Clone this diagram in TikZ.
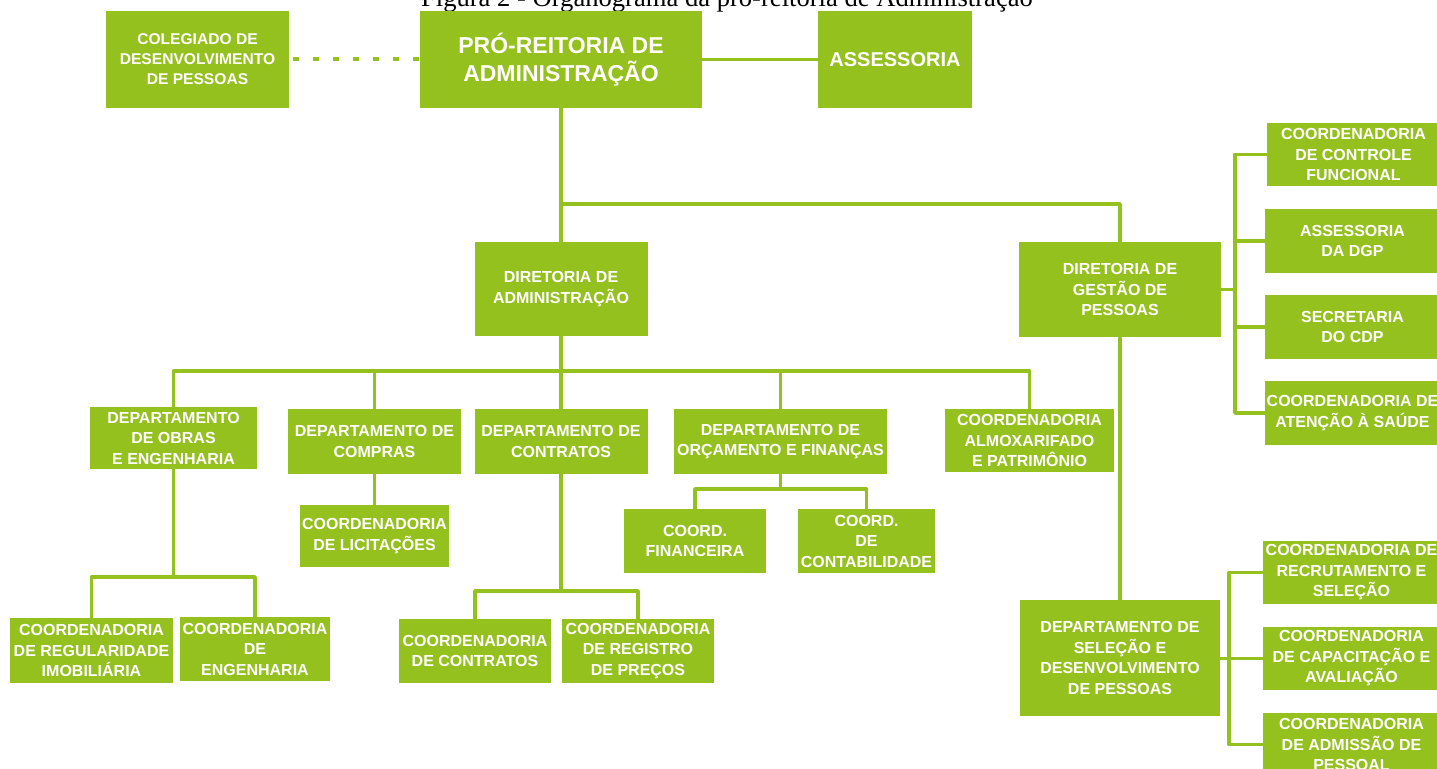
\documentclass[tikz,border=0pt]{standalone}
\usepackage{fontspec}
\setmainfont{Liberation Sans}
\newfontfamily\serifa{Liberation Serif}
\usepackage{tikz}
\usetikzlibrary{positioning}
\usepackage{xcolor}
\definecolor{verde}{RGB}{149,193,31}

\begin{document}
\begin{tikzpicture}[x=0.5pt,y=-0.5pt,
  caixa/.style 2 args={fill=verde, text=white, inner sep=0pt, align=center,
    minimum width=#1*0.5pt, minimum height=#2*0.5pt,
    font=\bfseries\fontsize{8}{10.25}\selectfont},
  ramo/.style={verde, line width=1.75pt, line join=round},
  pontilhado/.style={verde, line width=2pt, dash pattern=on 3pt off 7pt, dash phase=-2pt}]
\useasboundingbox (0,0) rectangle (1437,769);

\node[anchor=base west, font=\serifa\fontsize{13.3}{15}\selectfont] (titulo) at (414,7) {Figura 2 - Organograma da pró-reitoria de Administração};

% topo
\node[caixa={183}{97}, font=\bfseries\fontsize{7.8}{10}\selectfont] (colegiado) at (197.5,59.5) {COLEGIADO DE\\DESENVOLVIMENTO\\DE PESSOAS};
\node[caixa={282}{97}, font=\bfseries\fontsize{11.5}{14}\selectfont] (pro) at (561,59.5) {PRÓ-REITORIA DE\\ADMINISTRAÇÃO};
\node[caixa={154}{97}, font=\bfseries\fontsize{10}{12}\selectfont] (assessoria) at (895,59.5) {ASSESSORIA};

\draw[pontilhado] (colegiado.east) -- (pro.west);
\draw[ramo] (pro.east) -- (assessoria.west);

% diretorias
\node[caixa={173}{94}] (da) at (561,289) {DIRETORIA DE\\ADMINISTRAÇÃO};
\node[caixa={202}{95}] (dgp) at (1120,289.5) {DIRETORIA DE\\GESTÃO DE\\PESSOAS};

\coordinate (jpro) at (561,204);
\draw[ramo] (pro.south) -- (da.north);
\draw[ramo] (jpro) -| (dgp.north);

% departamentos
\node[caixa={167}{62}] (obras) at (173.5,438) {DEPARTAMENTO\\DE OBRAS\\E ENGENHARIA};
\node[caixa={173}{65}] (compras) at (374.5,441.5) {DEPARTAMENTO DE\\COMPRAS};
\node[caixa={173}{65}] (contratos) at (561,441.5) {DEPARTAMENTO DE\\CONTRATOS};
\node[caixa={213}{65}] (orcamento) at (780.5,441.5) {DEPARTAMENTO DE\\ORÇAMENTO E FINANÇAS};
\node[caixa={169}{63}] (almox) at (1029.5,440.5) {COORDENADORIA\\ALMOXARIFADO\\E PATRIMÔNIO};

\coordinate (jda) at (561,371);
\draw[ramo] (da.south) -- (contratos.north);
\draw[ramo] (obras.north) |- (jda) -| (almox.north);
\draw[ramo] (jda -| compras.north) -- (compras.north);
\draw[ramo] (jda -| orcamento.north) -- (orcamento.north);

% coordenadorias
\node[caixa={149}{62}] (licitacoes) at (374.5,536) {COORDENADORIA\\DE LICITAÇÕES};
\node[caixa={142}{64}] (financeira) at (695,541) {COORD.\\FINANCEIRA};
\node[caixa={137}{64}] (contabilidade) at (866.5,541) {COORD.\\DE\\CONTABILIDADE};
\node[caixa={163}{65}] (regularidade) at (91.5,650.5) {COORDENADORIA\\DE REGULARIDADE\\IMOBILIÁRIA};
\node[caixa={150}{64}] (engenharia) at (255,649) {COORDENADORIA\\DE\\ENGENHARIA};
\node[caixa={152}{64}] (ccontratos) at (475,651) {COORDENADORIA\\DE CONTRATOS};
\node[caixa={152}{64}] (registro) at (638,651) {COORDENADORIA\\DE REGISTRO\\DE PREÇOS};

\draw[ramo] (compras.south) -- (licitacoes.north);

\coordinate (jorc) at (780.5,489);
\draw[ramo] (orcamento.south) -- (jorc);
\draw[ramo] (financeira.north) |- (jorc) -| (contabilidade.north);

\coordinate (jobras) at (173.5,577);
\draw[ramo] (obras.south) -- (jobras);
\draw[ramo] (regularidade.north) |- (jobras) -| (engenharia.north);

\coordinate (jcontratos) at (561,591);
\draw[ramo] (contratos.south) -- (jcontratos);
\draw[ramo] (ccontratos.north) |- (jcontratos) -| (registro.north);

% gestao de pessoas
\node[caixa={173}{63}] (controle) at (1353.5,154.5) {COORDENADORIA\\DE CONTROLE\\FUNCIONAL};
\node[caixa={175}{64}] (adgp) at (1352.5,241) {ASSESSORIA\\DA DGP};
\node[caixa={175}{64}] (cdp) at (1352.5,327) {SECRETARIA\\DO CDP};
\node[caixa={175}{64}] (saude) at (1352.5,413) {COORDENADORIA DE\\ATENÇÃO À SAÚDE};

\coordinate (jdgp) at (1235,289.5);
\draw[ramo] (dgp.east) -- (jdgp);
\draw[ramo] (controle.west) -| (jdgp) |- (saude.west);
\draw[ramo] (jdgp |- adgp.west) -- (adgp.west);
\draw[ramo] (jdgp |- cdp.west) -- (cdp.west);

\node[caixa={200}{116}] (dsdp) at (1120,658) {DEPARTAMENTO DE\\SELEÇÃO E\\DESENVOLVIMENTO\\DE PESSOAS};
\node[caixa={177}{63}] (recrutamento) at (1351.5,572.5) {COORDENADORIA DE\\RECRUTAMENTO E\\SELEÇÃO};
\node[caixa={177}{63}] (capacitacao) at (1351.5,658.5) {COORDENADORIA\\DE CAPACITAÇÃO E\\AVALIAÇÃO};
\node[caixa={177}{63}] (admissao) at (1351.5,744.5) {COORDENADORIA\\DE ADMISSÃO DE\\PESSOAL};

\draw[ramo] (dgp.south) -- (dsdp.north);

\coordinate (jdsdp) at (1229,658.5);
\draw[ramo] (dsdp.east |- jdsdp) -- (capacitacao.west);
\draw[ramo] (recrutamento.west) -| (jdsdp) |- (admissao.west);

\end{tikzpicture}
\end{document}
